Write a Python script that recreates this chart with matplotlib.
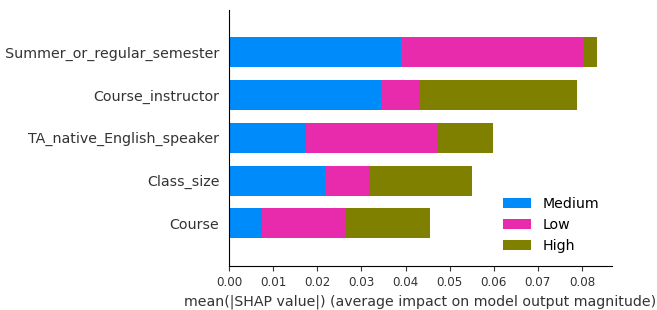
import numpy as np
import matplotlib
matplotlib.use("Agg")
import matplotlib.pyplot as plt

# features, bottom to top
features = ["Course", "Class_size", "TA_native_English_speaker",
            "Course_instructor", "Summer_or_regular_semester"]
classes = ["Medium", "Low", "High"]
medium = [0.0074, 0.0218, 0.0174, 0.0345, 0.0389]
low = [0.0191, 0.0100, 0.0298, 0.0085, 0.0416]
high = [0.0190, 0.0232, 0.0127, 0.0359, 0.0029]
colors = ["#008bfb", "#e82bad", "#808000"]
axis_color = "#333333"

fig = plt.figure(figsize=(6.57, 3.10), dpi=100)
ax = fig.add_axes([0.3486, 0.1419, 0.583, 0.827])

y_pos = np.arange(len(features))
left = np.zeros(len(features))
for name, vals, c in zip(classes, [medium, low, high], colors):
    ax.barh(y_pos, vals, 0.7, left=left, align="center", color=c, label=name)
    left += np.array(vals)

ax.set_yticks(y_pos)
ax.set_yticklabels(features, fontsize=10.3)
ax.set_ylim(-1, len(features))
ax.set_xlim(0, 0.0868)
ax.set_xticks(np.arange(0, 0.081, 0.01))
ax.set_xticklabels(["%.2f" % v for v in np.arange(0, 0.081, 0.01)])
ax.xaxis.set_ticks_position("bottom")
ax.yaxis.set_ticks_position("none")
ax.spines["right"].set_visible(False)
ax.spines["top"].set_visible(False)
ax.tick_params(color=axis_color, labelcolor=axis_color)
ax.tick_params("x", labelsize=8.6)
ax.set_xlabel("mean(|SHAP value|) (average impact on model output magnitude)",
              fontsize=10.2, color=axis_color)
ax.legend(frameon=False, loc="lower right", fontsize=10.2,
          bbox_to_anchor=(1.0, 0.0))

fig.savefig("out.png", dpi=100)
